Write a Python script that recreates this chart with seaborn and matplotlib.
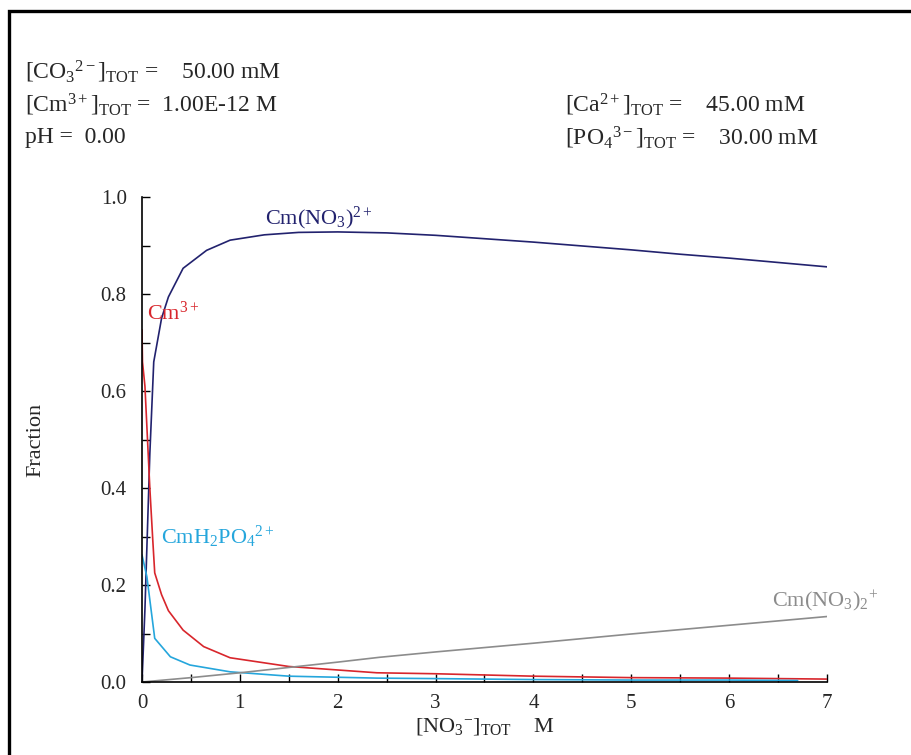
import matplotlib
matplotlib.use("Agg")
import matplotlib.pyplot as plt
from matplotlib.patches import Rectangle
from matplotlib.ticker import FormatStrFormatter, MultipleLocator
import pandas as pd
import seaborn as sns

# species fraction vs total nitrate (M)
nitrate_cmno3 = [0, 0.03, 0.08, 0.12, 0.2, 0.27, 0.42, 0.66, 0.9, 1.25, 1.6, 2.0,
                 2.5, 3.0, 3.5, 4.0, 4.5, 5.0, 5.5, 6.0, 6.5, 7.0]
frac_cmno3 = [0.0, 0.15, 0.47, 0.66, 0.75, 0.794, 0.853, 0.89, 0.911, 0.922, 0.927, 0.928,
              0.926, 0.921, 0.914, 0.907, 0.899, 0.891, 0.882, 0.874, 0.865, 0.856]

nitrate_cm = [0, 0.005, 0.03, 0.08, 0.11, 0.13, 0.2, 0.27, 0.42, 0.63, 0.9, 1.5, 2.4,
              3, 4, 5, 6, 7]
frac_cm = [0.726, 0.66, 0.61, 0.40, 0.293, 0.225, 0.18, 0.147, 0.107, 0.073, 0.05,
           0.032, 0.019, 0.017, 0.012, 0.009, 0.008, 0.006]

nitrate_cmh2po4 = [0, 0.05, 0.13, 0.29, 0.49, 0.9, 1.5, 2.4, 3, 4, 5, 6, 6.7]
frac_cmh2po4 = [0.262, 0.217, 0.09, 0.052, 0.035, 0.021, 0.012, 0.008, 0.007, 0.005,
                0.004, 0.004, 0.003]

nitrate_cmno32 = [0, 0.5, 1, 1.5, 2, 2.43, 3, 4, 5, 6, 7]
frac_cmno32 = [0, 0.009, 0.019, 0.03, 0.041, 0.051, 0.062, 0.08, 0.099, 0.117, 0.135]

species = ["Cm(NO3)2+", "Cm3+", "CmH2PO4 2+", "Cm(NO3)2 +"]
colors = {"Cm(NO3)2+": "#22226e", "Cm3+": "#d8262c",
          "CmH2PO4 2+": "#25a6dc", "Cm(NO3)2 +": "#8c8c8c"}

frames = []
for name, xs, ys in zip(species,
                        [nitrate_cmno3, nitrate_cm, nitrate_cmh2po4, nitrate_cmno32],
                        [frac_cmno3, frac_cm, frac_cmh2po4, frac_cmno32]):
    frames.append(pd.DataFrame({"nitrate": xs, "fraction": ys, "species": name}))
data = pd.concat(frames, ignore_index=True)

sns.set_style("ticks")
plt.rcParams["font.family"] = ["Liberation Serif", "DejaVu Serif"]
plt.rcParams["mathtext.fontset"] = "custom"
plt.rcParams["mathtext.rm"] = "Liberation Serif"
plt.rcParams["mathtext.it"] = "Liberation Serif:italic"
plt.rcParams["mathtext.bf"] = "Liberation Serif:bold"

fig = plt.figure(figsize=(9.12, 7.55), dpi=100)
ax = fig.add_axes([142 / 912, 73 / 755, 685 / 912, 485 / 755])

sns.lineplot(data=data, x="nitrate", y="fraction", hue="species", palette=colors,
             hue_order=species, sort=False, estimator=None, lw=1.2, legend=False, ax=ax)

ax.set_xlim(0, 7)
ax.set_ylim(0, 1.0)
ax.xaxis.set_major_locator(MultipleLocator(1))
ax.xaxis.set_minor_locator(MultipleLocator(0.5))
ax.yaxis.set_major_locator(MultipleLocator(0.2))
ax.yaxis.set_minor_locator(MultipleLocator(0.1))
ax.yaxis.set_major_formatter(FormatStrFormatter("%.1f"))
ax.tick_params(which="both", direction="in", length=6, width=1, color="black",
               bottom=True, left=True, labelsize=15)
ax.tick_params(axis="y", which="major", pad=11)
ax.tick_params(axis="x", which="major", pad=9)
sns.despine(ax=ax)
for side in ("left", "bottom"):
    ax.spines[side].set_color("black")
    ax.spines[side].set_linewidth(1.2)

ax.set_xlabel(r"[NO$_3$$^{-}$]$_{\rm TOT}$    M", fontsize=16, labelpad=2)
ax.set_ylabel("Fraction", fontsize=16, labelpad=40)

ax.text(1.26, 0.955, r"Cm(NO$_3$)$^{2+}$", color=colors["Cm(NO3)2+"], fontsize=16,
        va="center")
ax.text(0.05, 0.76, r"Cm$^{3+}$", color=colors["Cm3+"], fontsize=16, va="center")
ax.text(0.19, 0.30, r"CmH$_2$PO$_4$$^{2+}$", color=colors["CmH2PO4 2+"], fontsize=16,
        va="center")
ax.text(6.44, 0.167, r"Cm(NO$_3$)$_2$$^{+}$", color=colors["Cm(NO3)2 +"], fontsize=16,
        va="center", clip_on=False)

info = dict(fontsize=17, va="center")
fig.text(25 / 912, 1 - 72 / 755, r"[CO$_3$$^{2-}$]$_{\rm TOT}$ =    50.00 mM", **info)
fig.text(25 / 912, 1 - 105 / 755, r"[Cm$^{3+}$]$_{\rm TOT}$ =  1.00E-12 M", **info)
fig.text(25 / 912, 1 - 138 / 755, "pH =  0.00", **info)
fig.text(565 / 912, 1 - 105 / 755, r"[Ca$^{2+}$]$_{\rm TOT}$ =    45.00 mM", **info)
fig.text(565 / 912, 1 - 138 / 755, r"[PO$_4$$^{3-}$]$_{\rm TOT}$ =    30.00 mM", **info)

fig.patches.append(Rectangle((9.5 / 912, -0.2), 1.2, 1.2 - 10.5 / 755,
                             transform=fig.transFigure, fill=False,
                             edgecolor="black", lw=2.4))

fig.savefig("out.png", dpi=100)
